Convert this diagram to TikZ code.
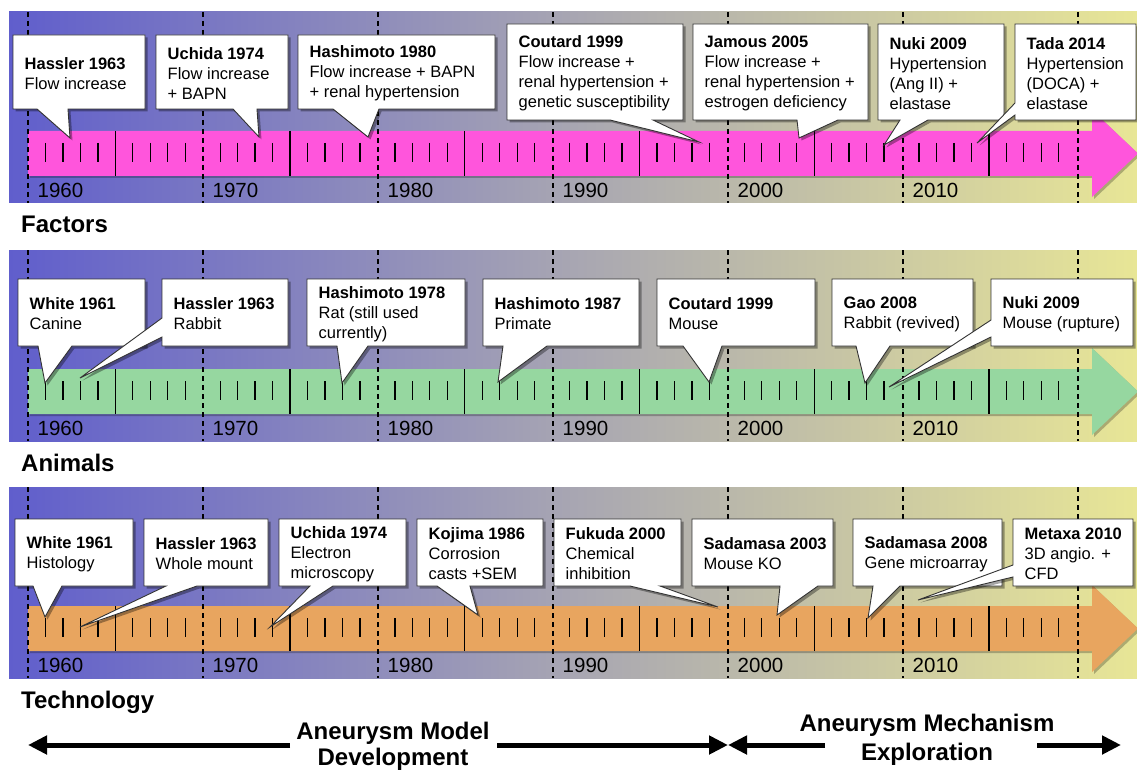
\documentclass[tikz,border=0pt]{standalone}
\usepackage{fontspec}
\setmainfont{Liberation Sans}
\usetikzlibrary{shadows,arrows.meta}
\definecolor{bgL}{RGB}{96,94,204}
\definecolor{bgM}{RGB}{168,166,178}
\definecolor{bgR}{RGB}{232,230,150}
\definecolor{barPink}{RGB}{255,85,220}
\definecolor{barGreen}{RGB}{150,215,160}
\definecolor{barOrange}{RGB}{232,165,95}
\tikzset{
  ctext/.style={anchor=west, align=left, inner sep=0pt, font=\fontsize{16.5}{20}\selectfont},
  callout/.style={fill=white, draw=black!80, line width=0.9pt, line join=miter,
    drop shadow={shadow xshift=2.5pt, shadow yshift=-2.5pt, opacity=0.35, fill=black}},
  barshape/.style={drop shadow={shadow xshift=2pt, shadow yshift=-2pt, opacity=0.25, fill=black}},
  dashline/.style={draw=black, line width=1.1pt, dash pattern=on 5pt off 4pt},
  minortick/.style={draw=black, line width=1.3pt},
  majortick/.style={draw=black, line width=1.3pt},
  yearlbl/.style={anchor=base west, inner sep=0pt, font=\fontsize{20.5}{24}\selectfont},
  paneltitle/.style={anchor=base west, inner sep=0pt, font=\fontsize{24}{28}\selectfont\bfseries},
  bigtext/.style={anchor=base, inner sep=0pt, font=\fontsize{24}{28}\selectfont\bfseries},
  bigarrow/.style={line width=5pt, -{Triangle[length=19pt,width=18pt]}},
}
\newcommand\calloutB[9]{%
  \filldraw[callout] (#2,#3) -- (#4,#3) -- (#4,#5) -- (#7,#5) -- #8 -- (#6,#5) -- (#2,#5) -- cycle;
  \node[ctext] (#1) at ({#2+11.5},{(#3+#5)/2+1.5}) {#9};}
\newcommand\calloutL[9]{%
  \filldraw[callout] (#2,#3) -- (#4,#3) -- (#4,#5) -- (#2,#5) -- (#2,#7) -- #8 -- (#2,#6) -- cycle;
  \node[ctext] (#1) at ({#2+11.5},{(#3+#5)/2+1.5}) {#9};}
\newcommand\tlpanel[4]{%
  \begin{scope}[yshift=#2]
    \shade[left color=bgL, right color=bgR, middle color=bgM] (9,12) rectangle (1137,203);
    \fill[#3, barshape] (28,131) -- (1092,131) -- (1092,110) -- (1138,153.5) -- (1092,197) -- (1092,176) -- (28,176) -- cycle;
    \foreach \k in {0,...,6} \draw[dashline] ({28+175*\k},12) -- ({28+175*\k},203);
    \foreach \d in {0,...,5}{%
      \foreach \i in {1,2,3,4,6,7,8,9} \draw[minortick] ({28+(10*\d+\i)*17.47},143) -- ++(0,19);
      \draw[majortick] ({28+(10*\d+5)*17.47},131) -- ++(0,45);}
    \foreach \k/\yr in {0/1960,1/1970,2/1980,3/1990,4/2000,5/2010}
      \node[yearlbl] (#1y\yr) at ({28+175*\k+9.5},197) {\yr};
    \node[paneltitle] (#1title) at (21,233) {#4};
  \end{scope}}
\begin{document}
\begin{tikzpicture}[x=1pt,y=-1pt]
\useasboundingbox (0,0) rectangle (1137,770);
\fill[white] (0,0) rectangle (1137,770);

\tlpanel{f}{0pt}{barPink}{Factors}
\tlpanel{a}{-238pt}{barGreen}{Animals}
\tlpanel{t}{-475pt}{barOrange}{Technology}

% Factors
\calloutB{f1}{13}{35}{145}{109}{37}{68}{(70,138)}{\textbf{Hassler 1963}\\Flow increase}
\calloutB{f2}{156}{35}{288}{109}{233}{257}{(259,137)}{\textbf{Uchida 1974}\\Flow increase\\+ BAPN}
\calloutB{f3}{298}{35}{495}{109}{333}{379}{(368,137)}{\textbf{Hashimoto 1980}\\Flow increase + BAPN\\+ renal hypertension}
\calloutB{f4}{507}{24}{683}{120}{610}{653}{(699,142)}{\textbf{Coutard 1999}\\Flow increase +\\renal hypertension +\\genetic susceptibility}
\calloutB{f5}{693}{24}{868}{120}{797}{838}{(799,138)}{\textbf{Jamous 2005}\\Flow increase +\\renal hypertension +\\estrogen deficiency}
\calloutB{f6}{878}{24}{1004}{120}{900}{928}{(884,145)}{\textbf{Nuki 2009}\\Hypertension\\(Ang II) +\\elastase}
\calloutL{f7}{1015}{24}{1136}{120}{103}{115}{(977,143)}{\textbf{Tada 2014}\\Hypertension\\(DOCA) +\\elastase}

% Animals
\calloutB{a1}{18}{279}{145}{346}{38}{72}{(45,383)}{\textbf{White 1961}\\Canine}
\calloutL{a2}{162}{279}{288}{346}{318}{337}{(80,378)}{\textbf{Hassler 1963}\\Rabbit}
\calloutB{a3}{307}{279}{465}{346}{337}{368}{(342,383)}{\textbf{Hashimoto 1978}\\Rat (still used\\currently)}
\calloutB{a4}{483}{279}{639}{346}{503}{547}{(498,382)}{\textbf{Hashimoto 1987}\\Primate}
\calloutB{a5}{657}{279}{815}{346}{683}{722}{(709,382)}{\textbf{Coutard 1999}\\Mouse}
\calloutB{a6}{832}{279}{973}{346}{856}{890}{(865,383)}{\textbf{Gao 2008}\\Rabbit (revived)}
\calloutL{a7}{991}{279}{1133}{346}{320}{337}{(889,387)}{\textbf{Nuki 2009}\\Mouse (rupture)}

% Technology
\calloutB{t1}{15}{519}{133}{586}{33}{62}{(45,617)}{\textbf{White 1961}\\Histology}
\calloutB{t2}{144}{519}{268}{586}{166}{197}{(80,627)}{\textbf{Hassler 1963}\\Whole mount}
\calloutB{t3}{279}{519}{406}{586}{310}{333}{(270,627)}{\textbf{Uchida 1974}\\Electron\\microscopy}
\calloutB{t4}{417}{519}{543}{586}{437}{470}{(478,615)}{\textbf{Kojima 1986}\\Corrosion\\casts +SEM}
\calloutB{t5}{554}{519}{681}{586}{630}{660}{(718,607)}{\textbf{Fukuda 2000}\\Chemical\\inhibition}
\calloutB{t6}{692}{519}{833}{586}{780}{818}{(777,615)}{\textbf{Sadamasa 2003}\\Mouse KO}
\calloutB{t7}{853}{519}{1002}{586}{873}{900}{(868,618)}{\textbf{Sadamasa 2008}\\Gene microarray}
\calloutL{t8}{1013}{519}{1133}{586}{565}{577}{(918,600)}{\textbf{Metaxa 2010}\\3D angio. +\\CFD}

% Bottom phases
\node[bigtext] (modelA) at (393,739) {Aneurysm Model};
\node[bigtext] (modelB) at (393,765) {Development};
\node[bigtext] (mechA) at (927,731) {Aneurysm Mechanism};
\node[bigtext] (mechB) at (927,760) {Exploration};
\coordinate (m1) at (290,745);
\coordinate (m1tip) at (28,745);
\coordinate (m2) at (497,745);
\coordinate (m2tip) at (728,745);
\coordinate (e1) at (825,745);
\coordinate (e1tip) at (728,745);
\coordinate (e2) at (1037,745);
\coordinate (e2tip) at (1121,745);
\draw[bigarrow] (m1) -- (m1tip);
\draw[bigarrow] (m2) -- (m2tip);
\draw[bigarrow] (e1) -- (e1tip);
\draw[bigarrow] (e2) -- (e2tip);
\end{tikzpicture}
\end{document}
